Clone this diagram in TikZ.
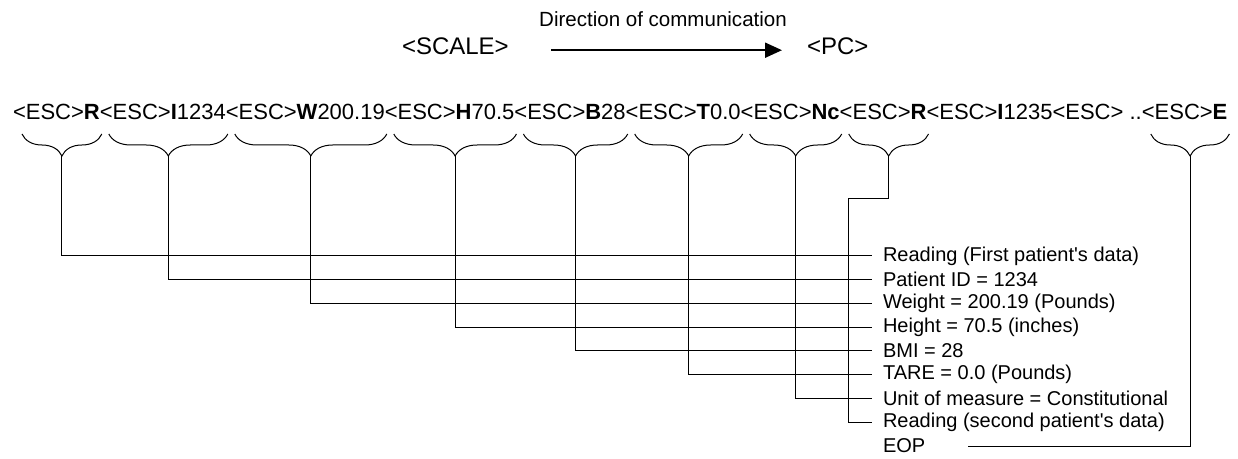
\documentclass[tikz,border=0pt]{standalone}
\usepackage{fontspec}
\setmainfont{Liberation Sans}
\usetikzlibrary{arrows.meta,calc,decorations.pathreplacing}
\begin{document}
\begin{tikzpicture}[x=0.75pt,y=-0.75pt,
  seg/.style={inner sep=0pt,outer sep=0pt,anchor=base west,font=\fontsize{16.5}{18}\selectfont},
  lab/.style={anchor=west,inner xsep=8.25pt,inner ysep=0pt,outer sep=0pt,font=\fontsize{15}{17}\selectfont},
  conn/.style={line width=0.75pt},
  bracedeco/.style={line width=0.75pt,decorate,decoration={brace,mirror,amplitude=16.5pt}},
  arr/.style={line width=1.5pt,-{Triangle[length=12.75pt,width=11.25pt]}},
  endpoint/.style={anchor=base west,inner sep=0pt,outer sep=0pt,font=\fontsize{18}{20}\selectfont}
]
\useasboundingbox (0,0) rectangle (1238,459);
% title row
\node[font=\fontsize{15.4}{17}\selectfont,inner sep=0pt] (dir) at (663,19) {Direction of communication};
\node[endpoint] (scale) at (402,55) {<SCALE>};
\node[endpoint] (pc) at (807,55) {<PC>};
\draw[arr,shorten <=32pt,shorten >=18.75pt] ([yshift=-2.6pt]scale.east) -- ([yshift=-2.6pt]pc.west);
% data string
\node[seg] (s1) at (13,120) {<ESC>\textbf{R}};
\node[seg] (s2) at (s1.base east) {<ESC>\textbf{I}1234};
\node[seg] (s3) at (s2.base east) {<ESC>\textbf{W}200.19};
\node[seg] (s4) at (s3.base east) {<ESC>\textbf{H}70.5};
\node[seg] (s5) at (s4.base east) {<ESC>\textbf{B}28};
\node[seg] (s6) at (s5.base east) {<ESC>\textbf{T}0.0};
\node[seg] (s7) at (s6.base east) {<ESC>\textbf{Nc}};
\node[seg] (s8) at (s7.base east) {<ESC>\textbf{R}};
\node[seg] (s9) at (s8.base east) {<ESC>\textbf{I}1235<ESC>};
\node[seg] (dots) at (s9.base east) {\ ..};
\node[seg] (s10) at (dots.base east) {<ESC>\textbf{E}};
% braces
\coordinate (btop) at (0,134);
\foreach \i in {1,2,3,4,5,6,7,8,10} {
  \coordinate (l\i) at ([xshift=6.75pt]s\i.west |- btop);
  \coordinate (r\i) at ([xshift=1.5pt]s\i.east |- btop);
  \draw[bracedeco] (l\i) -- (r\i);
  \coordinate (t\i) at ($(l\i)!0.5!(r\i)+(0,22)$);
}
% labels
\node[lab] (L1) at (872,256) {Reading (First patient\textquotesingle s data)};
\node[lab] (L2) at (872,279.75) {Patient ID = 1234};
\node[lab] (L3) at (872,303.5) {Weight = 200.19 (Pounds)};
\node[lab] (L4) at (872,327.25) {Height = 70.5 (inches)};
\node[lab] (L5) at (872,351) {BMI = 28};
\node[lab] (L6) at (872,374.75) {TARE = 0.0 (Pounds)};
\node[lab] (L7) at (872,398.5) {Unit of measure = Constitutional};
\node[lab] (L8) at (872,422.25) {Reading (second patient\textquotesingle s data)};
\node[lab] (L9) at (872,446) {EOP};
% connectors
\foreach \i in {1,...,7} \draw[conn] (t\i) |- (L\i.west);
\coordinate (j8) at (848,199);
\draw[conn] (t8) |- (j8) |- (L8.west);
\coordinate (eopend) at ([xshift=24pt]L9.east);
\draw[conn] (t10) |- (eopend);
\end{tikzpicture}
\end{document}
